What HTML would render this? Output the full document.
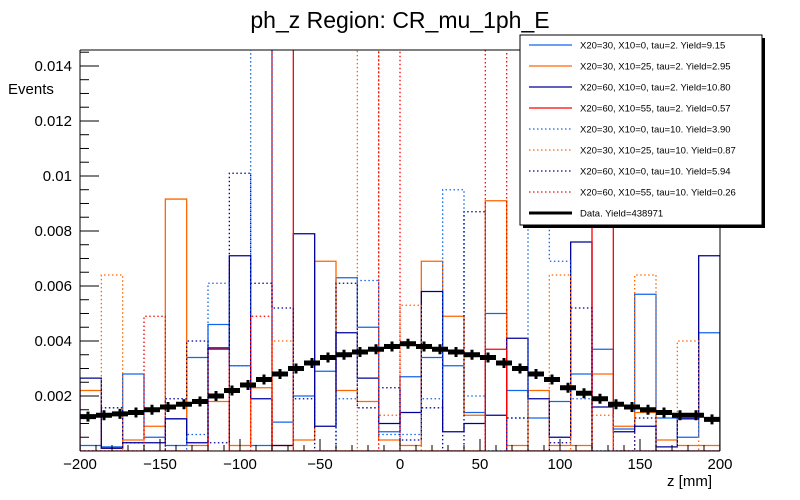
<!DOCTYPE html>
<html><head><meta charset="utf-8">
<style>
body{margin:0;background:#fff;}
svg{display:block;font-family:"Liberation Sans",sans-serif;}
</style></head>
<body>
<svg id="c" width="800" height="500" viewBox="0 0 800 500">
<defs><clipPath id="fr"><rect x="80" y="50" width="640" height="401"/></clipPath></defs>
<rect width="800" height="500" fill="#fff"/>
<text x="400" y="28" font-size="23" text-anchor="middle">ph_z Region: CR_mu_1ph_E</text>
<text x="8" y="94" font-size="15">Events</text>
<text x="712" y="486" font-size="15" text-anchor="end">z [mm]</text>
<g id="plot" clip-path="url(#fr)"></g>
<g id="axes"></g>
<g id="legend"></g>
</svg>
<script>
const nBins = 30;
const xEdgesRange = [-200, 200];
const lbSolid = [0.0002,0.00015,0.0028,0.0005,0.0002,0.0034,0.0046,0.0031,0.0002,0.00105,0.002,0.0029,0.0063,0.0045,0.0007,0.0027,0.0034,0.0031,0.0014,0.005,0.0022,0.0012,0.0018,0.0028,0.0037,0.0008,0.0057,0.0012,0.0005,0.0043];
const orSolid = [0.0022,0.0001,0.0004,0.0009,0.00916,0.0002,0.0018,0.0002,0.0023,0.0002,0.0004,0.0069,0.0022,0.0018,0.0004,0.0002,0.0069,0.0049,0.0013,0.0091,0.0002,0.0022,0.0002,0.0002,0.0028,0.0009,0.0014,0.0004,0.0002,0.0002];
const nvSolid = [0.00265,0.0001,0.0003,0.0003,0.00117,0.0003,0.00375,0.0071,0.0019,0.0002,0.0079,0.0009,0.0043,0.00265,0.001,0.0014,0.0058,0.0007,0.001,0.0013,0.0041,0.0019,0.0005,0.0076,0.0016,0.0007,0.0009,0.00015,0.00117,0.0071];
const rdSolid = [0,0,0,0,0,0,0.0037,0,0,0.02,0,0,0,0,0,0,0,0,0,0.0037,0,0,0,0,0.02,0,0,0,0,0];
const lbDot = [0,0,0,0,0,0.0006,0.0061,0.0031,0.02,0,0,0,0.0019,0.0062,0.0006,0.0006,0.0019,0.0095,0.002,0,0.0012,0.02,0.0069,0.0019,0,0,0,0,0,0];
const orDot = [0,0.0064,0,0,0,0,0,0,0,0.004,0,0,0,0.02,0.0013,0.0053,0,0,0,0,0,0,0.0064,0,0.0013,0,0.0064,0,0.004,0];
const nvDot = [0,0.00157,0.0003,0,0.0019,0.004,0.0003,0.0101,0.0061,0.0052,0.0019,0,0.0061,0.00157,0.0023,0.0004,0.00157,0,0.0087,0,0.0012,0,0.0003,0.0052,0,0,0.0012,0,0,0];
const rdDot = [0,0,0,0.0049,0,0,0,0,0.0049,0,0,0,0,0,0.02,0,0,0,0,0.02,0,0,0,0,0,0,0,0,0,0];
const dataVals = [0.00125,0.0013,0.00135,0.0014,0.0015,0.0016,0.0017,0.0018,0.002,0.0022,0.0024,0.0026,0.0028,0.003,0.0032,0.0034,0.0035,0.0036,0.0037,0.0038,0.0039,0.0038,0.0037,0.0036,0.0035,0.0034,0.0032,0.003,0.0028,0.0026,0.0023,0.0021,0.0019,0.0017,0.0016,0.0015,0.0014,0.0013,0.0013,0.00115];
const xTickLabels = ["\u2212200","\u2212150","\u2212100","\u221250","0","50","100","150","200"];
const xTickVals = [-200,-150,-100,-50,0,50,100,150,200];
const yTickVals = [0.002,0.004,0.006,0.008,0.01,0.012,0.014];
const yTickLabels = ["0.002","0.004","0.006","0.008","0.01","0.012","0.014"];
const legendLabels = ["X20=30, X10=0, tau=2. Yield=9.15","X20=30, X10=25, tau=2. Yield=2.95","X20=60, X10=0, tau=2. Yield=10.80","X20=60, X10=55, tau=2. Yield=0.57","X20=30, X10=0, tau=10. Yield=3.90","X20=30, X10=25, tau=10. Yield=0.87","X20=60, X10=0, tau=10. Yield=5.94","X20=60, X10=55, tau=10. Yield=0.26","Data. Yield=438971"];

const NS="http://www.w3.org/2000/svg";
const X0=80,X1=720,Y0=451,YT=50,YMAX=0.01458;
const sx=v=>X0+(v-xEdgesRange[0])/(xEdgesRange[1]-xEdgesRange[0])*(X1-X0);
const sy=v=>Y0-v/YMAX*(Y0-YT);
function mk(tag,attrs,parent){const e=document.createElementNS(NS,tag);for(const k in attrs)e.setAttribute(k,attrs[k]);parent.appendChild(e);return e;}
const plot=document.getElementById('plot'),axes=document.getElementById('axes'),leg=document.getElementById('legend');
const bw=(xEdgesRange[1]-xEdgesRange[0])/nBins;
const series=[
 {v:lbSolid,c:"#1166ee",d:null,n:"series-x20-30-x10-0-tau2"},
 {v:orSolid,c:"#ff6600",d:null,n:"series-x20-30-x10-25-tau2"},
 {v:nvSolid,c:"#000099",d:null,n:"series-x20-60-x10-0-tau2"},
 {v:rdSolid,c:"#ff0000",d:null,n:"series-x20-60-x10-55-tau2"},
 {v:lbDot,c:"#1166ee",d:"1.5,2.5",n:"series-x20-30-x10-0-tau10"},
 {v:orDot,c:"#ff6600",d:"1.5,2.5",n:"series-x20-30-x10-25-tau10"},
 {v:nvDot,c:"#000099",d:"1.5,2.5",n:"series-x20-60-x10-0-tau10"},
 {v:rdDot,c:"#ff0000",d:"1.5,2.5",n:"series-x20-60-x10-55-tau10"}
];
series.forEach(s=>{
 let p="M"+sx(xEdgesRange[0])+","+sy(0);
 s.v.forEach((v,i)=>{const a=xEdgesRange[0]+i*bw;p+=" L"+sx(a)+","+sy(v)+" L"+sx(a+bw)+","+sy(v);});
 p+=" L"+sx(xEdgesRange[1])+","+sy(0);
 const e=mk('path',{d:p,fill:"none",stroke:s.c,"stroke-width":1.3},plot);
 if(s.d)e.setAttribute('stroke-dasharray',s.d);
 
 
});
const dw=(xEdgesRange[1]-xEdgesRange[0])/dataVals.length;
const dg=mk('g',{},plot);


dataVals.forEach((v,i)=>{
 const a=xEdgesRange[0]+i*dw;
 const r=mk('rect',{x:sx(a),y:sy(v)-2.5,width:sx(a+dw)-sx(a),height:5,fill:"#000"},dg);
 
 
 const l=mk('line',{x1:sx(a+dw/2),x2:sx(a+dw/2),y1:sy(v)-5,y2:sy(v)+5,stroke:"#000","stroke-width":3},dg);
 
 
});
mk('line',{x1:X0,y1:YT,x2:X1,y2:YT,stroke:"#000","stroke-width":1},axes);
mk('line',{x1:X1,y1:YT,x2:X1,y2:Y0,stroke:"#000","stroke-width":1},axes);
mk('line',{x1:X0,y1:YT,x2:X0,y2:Y0,stroke:"#000","stroke-width":1},axes);
mk('line',{x1:X0,y1:Y0,x2:X1,y2:Y0,stroke:"#000","stroke-width":1},axes);
for(let v=-200;v<=200;v+=10){const maj=v%50===0;mk('line',{x1:sx(v),x2:sx(v),y1:Y0,y2:Y0-(maj?12:6),stroke:"#000"},axes);}
xTickVals.forEach((v,i)=>{const t=mk('text',{x:sx(v),y:Y0+18,"font-size":15,"text-anchor":"middle"},axes);t.textContent=xTickLabels[i];
 
 });
for(let v=0.0005;v<YMAX;v+=0.0005){const maj=Math.abs(v/0.002-Math.round(v/0.002))<1e-6;mk('line',{x1:X0,x2:X0+(maj?19:9),y1:sy(v),y2:sy(v),stroke:"#000"},axes);}
yTickVals.forEach((v,i)=>{const t=mk('text',{x:X0-8,y:sy(v)+5,"font-size":15,"text-anchor":"end"},axes);t.textContent=yTickLabels[i];
 
 });
mk('rect',{x:523,y:38,width:242,height:190,fill:"#000"},leg);
mk('rect',{x:520,y:35,width:242,height:190,fill:"#fff",stroke:"#000","stroke-width":1},leg);
legendLabels.forEach((lab,i)=>{
 const y=45+i*21;
 const s=series[i];
 const ln=mk('line',{x1:529,x2:572,y1:y,y2:y,stroke:s?s.c:"#000","stroke-width":s?1.2:3},leg);
 if(s&&s.d)ln.setAttribute('stroke-dasharray',s.d);
 const t=mk('text',{x:580,y:y+3.5,"font-size":9.5},leg);t.textContent=lab;
 
 
});
</script>
</body></html>
